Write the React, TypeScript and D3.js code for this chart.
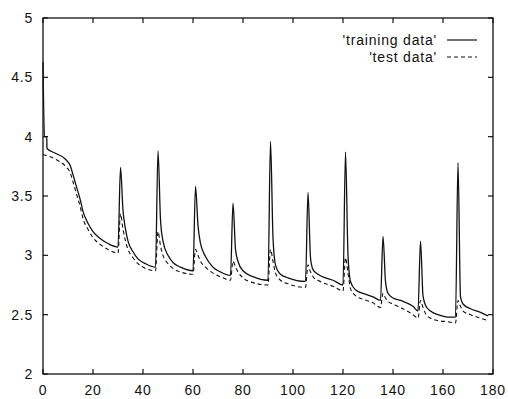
import React from 'react';
import * as d3 from 'd3';

// values: [epoch, error]
const trainingData: [number, number][] = [
  [0, 4.63], [0.6, 4.0], [1.5, 4.0], [1.6, 3.9], [5, 3.86], [9, 3.81], [11, 3.75], [12, 3.68],
  [13.5, 3.57], [15, 3.46], [16, 3.37], [18, 3.27], [20, 3.2], [23, 3.14], [26, 3.1], [30, 3.07],
  [31, 3.74], [32, 3.38], [33, 3.22], [34, 3.12], [36, 3.03], [38, 2.97], [41, 2.93], [45, 2.9],
  [46, 3.88], [47, 3.3], [48, 3.12], [50, 3.0], [52, 2.94], [55, 2.9], [60, 2.87],
  [61, 3.58], [62, 3.25], [63, 3.1], [65, 2.99], [68, 2.9], [71, 2.86], [75, 2.83],
  [76, 3.44], [77, 3.05], [78, 2.95], [80, 2.87], [84, 2.82], [90, 2.79],
  [91, 3.96], [92, 3.15], [93, 2.92], [95, 2.84], [98, 2.81], [105, 2.78],
  [106, 3.53], [107, 2.98], [108, 2.88], [110, 2.84], [113, 2.81], [116, 2.79], [120, 2.75],
  [121, 3.87], [122, 3.0], [123, 2.78], [125, 2.71], [128, 2.68], [132, 2.65], [135, 2.62],
  [136, 3.16], [137, 2.78], [138, 2.68], [140, 2.64], [143, 2.62], [148, 2.57], [150, 2.53],
  [151, 3.12], [152, 2.66], [153, 2.58], [155, 2.53], [158, 2.5], [162, 2.48], [165, 2.48],
  [166, 3.78], [167, 2.65], [168, 2.59], [171, 2.55], [175, 2.52], [178, 2.49],
];

const testData: [number, number][] = [
  [0, 3.85], [5, 3.81], [9, 3.75], [11, 3.69], [12, 3.62], [13.5, 3.51], [15, 3.4], [16, 3.31],
  [18, 3.22], [20, 3.15], [23, 3.09], [26, 3.05], [30, 3.02],
  [31, 3.35], [32, 3.22], [33, 3.12], [34, 3.05], [36, 2.98], [38, 2.93], [41, 2.89], [45, 2.87],
  [46, 3.2], [47, 3.08], [48, 3.0], [50, 2.93], [52, 2.89], [55, 2.86], [60, 2.84],
  [61, 3.05], [62, 3.0], [63, 2.95], [65, 2.9], [68, 2.85], [71, 2.82], [75, 2.79],
  [76, 2.95], [77, 2.9], [78, 2.86], [80, 2.81], [84, 2.77], [90, 2.75],
  [91, 3.05], [92, 2.95], [93, 2.85], [95, 2.79], [98, 2.76], [105, 2.73],
  [106, 2.92], [107, 2.86], [108, 2.82], [110, 2.79], [113, 2.76], [116, 2.74], [120, 2.7],
  [121, 2.98], [122, 2.85], [123, 2.72], [125, 2.66], [128, 2.63], [132, 2.6], [135, 2.56],
  [136, 2.68], [137, 2.64], [138, 2.61], [140, 2.59], [143, 2.56], [148, 2.5], [150, 2.47],
  [151, 2.62], [152, 2.56], [153, 2.51], [155, 2.47], [158, 2.45], [162, 2.44], [165, 2.43],
  [166, 2.62], [167, 2.57], [168, 2.53], [171, 2.5], [175, 2.47], [178, 2.45],
];

const xTicks = [0, 20, 40, 60, 80, 100, 120, 140, 160, 180];
const yTicks = [2, 2.5, 3, 3.5, 4, 4.5, 5];
const seriesNames = ["'training data'", "'test data'"];

const W = 508;
const H = 399;
const margin = { left: 43, right: 15, top: 18, bottom: 25 };
const font = '"Liberation Sans", Arial, sans-serif';

const App = () => {
  const x = d3.scaleLinear().domain([0, 180]).range([margin.left, W - margin.right]);
  const y = d3.scaleLinear().domain([2, 5]).range([H - margin.bottom, margin.top]);

  const line = d3.line<[number, number]>()
    .x(d => x(d[0]))
    .y(d => y(d[1]))
    .curve(d3.curveMonotoneX);

  const [x0, x1] = x.range();
  const [y0, y1] = y.range();
  const tick = 5;

  return (
    <svg width={W} height={H} style={{ position: 'absolute', left: 0, top: 0, background: '#fff' }}
      fontFamily={font} fontSize={14} fill="#111" letterSpacing={0.8}>
      {/* frame */}
      <rect x={x0} y={y1} width={x1 - x0} height={y0 - y1} fill="none" stroke="#111" strokeWidth={1.3} />

      {/* x ticks, drawn inward on bottom and top */}
      {xTicks.map(t => (
        <g key={'x' + t}>
          <line x1={x(t)} x2={x(t)} y1={y0} y2={y0 - tick} stroke="#111" strokeWidth={1.2} />
          <line x1={x(t)} x2={x(t)} y1={y1} y2={y1 + tick} stroke="#111" strokeWidth={1.2} />
          <text x={x(t)} y={H - 4} textAnchor="middle">{t}</text>
        </g>
      ))}

      {/* y ticks, drawn inward on left and right */}
      {yTicks.map(t => (
        <g key={'y' + t}>
          <line x1={x0} x2={x0 + tick} y1={y(t)} y2={y(t)} stroke="#111" strokeWidth={1.2} />
          <line x1={x1} x2={x1 - tick} y1={y(t)} y2={y(t)} stroke="#111" strokeWidth={1.2} />
          <text x={x0 - 10} y={y(t) + 5} textAnchor="end">{t}</text>
        </g>
      ))}

      {/* series */}
      <path d={line(testData) ?? ''} fill="none" stroke="#111" strokeWidth={1.1} strokeDasharray="4,3" />
      <path d={line(trainingData) ?? ''} fill="none" stroke="#111" strokeWidth={1.3} />

      {/* legend */}
      <text x={437} y={45} textAnchor="end">{seriesNames[0]}</text>
      <line x1={447} x2={477} y1={40} y2={40} stroke="#111" strokeWidth={1.2} />
      <text x={437} y={62} textAnchor="end">{seriesNames[1]}</text>
      <line x1={447} x2={477} y1={57} y2={57} stroke="#111" strokeWidth={1.1} strokeDasharray="4,3" />
    </svg>
  );
};

export default App;
